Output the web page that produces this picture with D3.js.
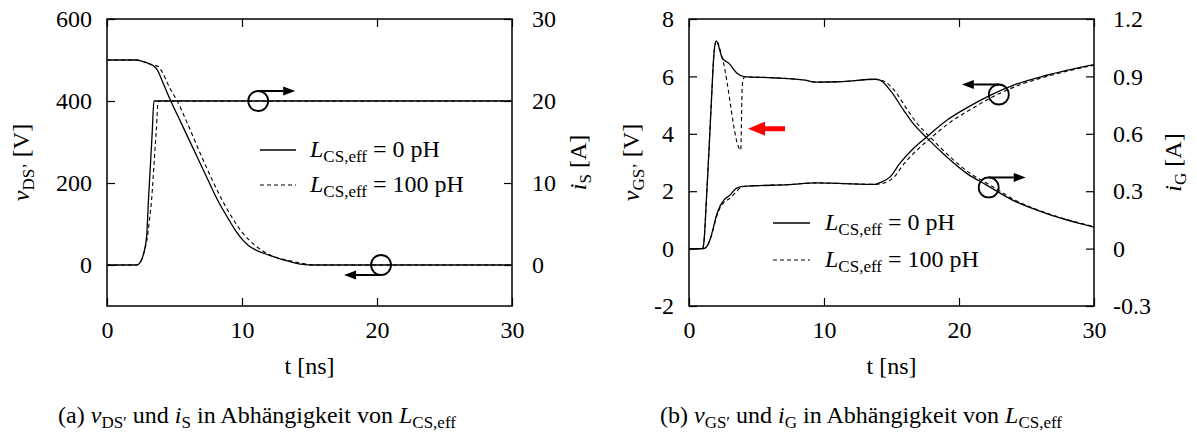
<!DOCTYPE html>
<html>
<head>
<meta charset="utf-8">
<script src="https://cdn.jsdelivr.net/npm/d3@7"></script>
<style>
	body { margin: 0; background: #fff; }
	svg { display: block; font-family: "Liberation Serif", "Times New Roman", serif; }
</style>
</head>
<body>
<svg id="fig" width="1197" height="435"></svg>
<script>
'use strict';

// time axis [ns], shared by both panels
const T_DOMAIN = [0, 30];
const T_TICKS = [0, 10, 20, 30];

// (a) v_DS' [V] (left axis) and i_S [A] (right axis)
const A_V_DOMAIN = [-100, 600];
const A_V_TICKS = [0, 200, 400, 600];
const A_I_DOMAIN = [-5, 30];
const A_I_TICKS = [0, 10, 20, 30];

const vds_0pH = [[0,500],[2.2,500],[2.5,498],[2.8,495],[3.2,490],[3.5,484],[3.7,477],[4.2,440],[4.7,402],[5.5,346],[6.3,290],[7.0,241],[7.5,206],[8.2,158],[9.0,112],[9.5,85],[10.0,63],[10.5,47],[11.0,37],[12.0,24],[13.0,13],[13.8,6],[14.5,1.5],[15.2,0],[30,0]];
const vds_100pH = [[0,500],[2.2,500],[2.6,497],[3.0,492],[3.5,487],[3.8,484],[4.1,470],[4.6,435],[5.2,400],[6.0,342],[7.0,265],[7.8,207],[8.5,160],[9.3,114],[10.0,80],[10.5,62],[11.0,47],[11.6,33],[12.3,21],[13.3,12],[14.3,5],[15.0,1],[15.6,0],[30,0]];
const is_0pH = [[0,0],[2.2,0],[2.4,0.2],[2.6,0.8],[2.8,2.0],[2.95,3.8],[3.07,7.9],[3.2,11.7],[3.35,16.2],[3.48,20],[30,20]];
const is_100pH = [[0,0],[2.2,0],[2.4,0.2],[2.6,0.8],[2.8,1.9],[3.0,3.5],[3.15,5.6],[3.3,7.9],[3.5,12.7],[3.65,16.4],[3.8,20],[30,20]];

// (b) v_GS' [V] (left axis) and i_G [A] (right axis)
const B_V_DOMAIN = [-2, 8];
const B_V_TICKS = [-2, 0, 2, 4, 6, 8];
const B_I_DOMAIN = [-0.3, 1.2];
const B_I_TICKS = [-0.3, 0, 0.3, 0.6, 0.9, 1.2];

const vgs_0pH = [[0,0],[1.05,0],[1.3,0.06],[1.6,0.38],[1.8,0.72],[2.0,1.1],[2.3,1.48],[2.6,1.7],[3.0,1.85],[3.5,2.1],[4.0,2.17],[4.9,2.19],[7.4,2.23],[9.4,2.29],[11.1,2.27],[13.8,2.24],[14.15,2.3],[14.9,2.5],[15.6,2.96],[16.6,3.48],[17.6,3.89],[19.1,4.47],[20.6,4.91],[22.3,5.34],[24.0,5.69],[26.5,6.04],[30,6.41]];
const vgs_100pH = [[0,0],[1.05,0],[1.3,0.06],[1.6,0.36],[1.8,0.68],[2.0,1.05],[2.3,1.42],[2.6,1.62],[3.0,1.74],[3.5,1.98],[3.9,2.15],[4.9,2.19],[7.4,2.23],[9.4,2.29],[11.1,2.27],[13.8,2.24],[14.4,2.28],[15.2,2.5],[15.9,2.94],[16.9,3.44],[17.9,3.85],[19.4,4.42],[20.9,4.86],[22.5,5.29],[24.2,5.65],[26.6,6.01],[30,6.39]];
const ig_0pH = [[0,0],[1.0,0],[1.1,0.03],[1.3,0.27],[1.5,0.54],[1.7,0.83],[1.85,1.02],[2.02,1.086],[2.47,0.995],[2.96,0.968],[3.58,0.915],[4.07,0.899],[6.2,0.893],[8.6,0.88],[9.4,0.87],[11.1,0.872],[13.8,0.885],[14.15,0.88],[14.9,0.828],[15.9,0.723],[16.6,0.654],[17.6,0.58],[19.1,0.479],[20.6,0.392],[22.05,0.332],[24.0,0.252],[26.5,0.183],[30,0.112]];
const ig_100pH = [[0,0],[1.0,0],[1.1,0.03],[1.3,0.27],[1.5,0.54],[1.7,0.83],[1.85,1.02],[2.02,1.086],[2.47,0.995],[3.83,0.515],[3.95,0.855],[4.1,0.897],[6.2,0.893],[8.6,0.88],[9.4,0.87],[11.1,0.872],[13.8,0.885],[14.15,0.88],[14.45,0.875],[15.2,0.828],[16.2,0.723],[16.9,0.654],[17.9,0.58],[19.35,0.479],[20.85,0.392],[22.3,0.332],[24.2,0.252],[26.6,0.183],[30,0.115]];

const LEGEND_VALUES = ["0 pH", "100 pH"];

const FONT_SIZE = 24;
const SUB_SIZE = 17;
const SUB_DY = 5;
const TICK_LEN = 8;
const MARK_R = 10;
const ARROW_LEN = 37;

const svg = d3.select("#fig");

// appends tspans, parts: {t: text, i: italic, s: subscript}
function add_rich(text_sel, parts) {
	let in_sub = false;
	parts.forEach(p => {
		const ts = text_sel.append("tspan").text(p.t);
		if (p.i) ts.attr("font-style", "italic");
		if (p.s) {
			ts.attr("font-size", SUB_SIZE);
			if (!in_sub) ts.attr("dy", SUB_DY);
		} else if (in_sub) {
			ts.attr("dy", -SUB_DY);
		}
		in_sub = !!p.s;
	});
	return text_sel;
}

const legend_parts = v => [{t: "L", i: true}, {t: "CS,eff", s: true}, {t: " = " + v}];

const PANELS = [
	{
		left: 107, top: 19, width: 405, height: 287,
		yl_domain: A_V_DOMAIN, yl_ticks: A_V_TICKS, yl_pad: 15,
		yr_domain: A_I_DOMAIN, yr_ticks: A_I_TICKS, yr_pad: 20,
		yl_title: [{t: "v", i: true}, {t: "DS’", s: true}, {t: " [V]"}], yl_title_x: 29,
		yr_title: [{t: "i", i: true}, {t: "S", s: true}, {t: " [A]"}], yr_title_x: 586,
		series: [
			{data: vds_0pH, axis: "l", dashed: false},
			{data: is_0pH, axis: "r", dashed: false},
			{data: vds_100pH, axis: "l", dashed: true},
			{data: is_100pH, axis: "r", dashed: true},
		],
		legend: {x: 153, y: 131, gap: 35, len: 36, text_dx: 50},
		markers: [
			{t: 11.2, v: 400, side: -1, dir: 1},
			{t: 20.3, v: 0, side: 1, dir: -1},
		],
		red_arrow: null,
		caption: [{t: "(a) "}, {t: "v", i: true}, {t: "DS′", s: true}, {t: " und "}, {t: "i", i: true}, {t: "S", s: true}, {t: " in Abhängigkeit von "}, {t: "L", i: true}, {t: "CS,eff", s: true}],
		caption_x: 257,
	},
	{
		left: 689, top: 19, width: 405, height: 287,
		yl_domain: B_V_DOMAIN, yl_ticks: B_V_TICKS, yl_pad: 15,
		yr_domain: B_I_DOMAIN, yr_ticks: B_I_TICKS, yr_pad: 19,
		yl_title: [{t: "v", i: true}, {t: "GS’", s: true}, {t: " [V]"}], yl_title_x: 639,
		yr_title: [{t: "i", i: true}, {t: "G", s: true}, {t: " [A]"}], yr_title_x: 1181,
		series: [
			{data: ig_0pH, axis: "r", dashed: false},
			{data: vgs_0pH, axis: "l", dashed: false},
			{data: ig_100pH, axis: "r", dashed: true},
			{data: vgs_100pH, axis: "l", dashed: true},
		],
		legend: {x: 84, y: 204, gap: 37, len: 37, text_dx: 52},
		markers: [
			{t: 22.95, v: 5.37, side: -1, dir: -1},
			{t: 22.2, v: 2.13, side: -1, dir: 1},
		],
		red_arrow: {t: 4.37, v: 4.18},
		caption: [{t: "(b) "}, {t: "v", i: true}, {t: "GS′", s: true}, {t: " und "}, {t: "i", i: true}, {t: "G", s: true}, {t: " in Abhängigkeit von "}, {t: "L", i: true}, {t: "CS,eff", s: true}],
		caption_x: 861,
	},
];

function style_axis(a) {
	a.select(".domain").remove();
	a.attr("font-family", null).attr("font-size", FONT_SIZE);
	a.selectAll("line").attr("stroke", "#000").attr("stroke-width", 1.2);
	a.selectAll("text").attr("fill", "#000");
}

function draw_panel(p, idx) {
	const g = svg.append("g").attr("transform", `translate(${p.left},${p.top})`);
	const x = d3.scaleLinear().domain(T_DOMAIN).range([0, p.width]);
	const yl = d3.scaleLinear().domain(p.yl_domain).range([p.height, 0]);
	const yr = d3.scaleLinear().domain(p.yr_domain).range([p.height, 0]);

	// ticks point inwards on all four sides
	g.append("g").attr("transform", `translate(0,${p.height})`)
		.call(d3.axisBottom(x).tickValues(T_TICKS).tickSizeInner(-TICK_LEN).tickSizeOuter(0).tickPadding(15).tickFormat(String))
		.call(style_axis);
	g.append("g")
		.call(d3.axisTop(x).tickValues(T_TICKS).tickSizeInner(-TICK_LEN).tickSizeOuter(0).tickFormat(""))
		.call(style_axis);
	g.append("g")
		.call(d3.axisLeft(yl).tickValues(p.yl_ticks).tickSizeInner(-TICK_LEN).tickSizeOuter(0).tickPadding(p.yl_pad).tickFormat(String))
		.call(style_axis);
	g.append("g").attr("transform", `translate(${p.width},0)`)
		.call(d3.axisRight(yr).tickValues(p.yr_ticks).tickSizeInner(-TICK_LEN).tickSizeOuter(0).tickPadding(p.yr_pad).tickFormat(String))
		.call(style_axis);

	const clip_id = "clip" + idx;
	g.append("clipPath").attr("id", clip_id)
		.append("rect").attr("width", p.width).attr("height", p.height);

	const gLines = g.append("g").attr("clip-path", `url(#${clip_id})`)
		.attr("fill", "none")
		.attr("stroke", "#000");

	p.series.forEach(s => {
		const ys = s.axis === "l" ? yl : yr;
		const line = d3.line()
			.x(d => x(d[0]))
			.y(d => ys(d[1]))
			.curve(d3.curveMonotoneX);
		gLines.append("path")
			.attr("d", line(s.data))
			.attr("stroke-width", s.dashed ? 1.1 : 1.3)
			.attr("stroke-dasharray", s.dashed ? "4,3" : null);
	});

	g.append("rect")
		.attr("width", p.width).attr("height", p.height)
		.attr("fill", "none").attr("stroke", "#000").attr("stroke-width", 1.5);

	// circle + arrow pointing to the axis the curve belongs to
	p.markers.forEach(m => {
		const cx = x(m.t), cy = yl(m.v);
		const ay = cy + m.side * MARK_R;
		const tip = cx + m.dir * ARROW_LEN;
		const head = 12;
		g.append("circle")
			.attr("cx", cx).attr("cy", cy).attr("r", MARK_R)
			.attr("fill", "none").attr("stroke", "#000").attr("stroke-width", 1.8);
		g.append("line")
			.attr("x1", cx).attr("y1", ay)
			.attr("x2", tip - m.dir * head).attr("y2", ay)
			.attr("stroke", "#000").attr("stroke-width", 2);
		g.append("path")
			.attr("d", `M${tip},${ay}L${tip - m.dir * head},${ay - 4.5}L${tip - m.dir * head},${ay + 4.5}Z`)
			.attr("fill", "#000");
	});

	if (p.red_arrow) {
		const tx = x(p.red_arrow.t), ty = yl(p.red_arrow.v);
		const len = 37, head = 17, hh = 7, sw = 2.5;
		g.append("path")
			.attr("d", `M${tx},${ty}L${tx + head},${ty - hh}L${tx + head},${ty - sw}L${tx + len},${ty - sw}L${tx + len},${ty + sw}L${tx + head},${ty + sw}L${tx + head},${ty + hh}Z`)
			.attr("fill", "#ff0000");
	}

	// legend
	const lg = g.append("g").attr("transform", `translate(${p.legend.x},${p.legend.y})`);
	LEGEND_VALUES.forEach((v, i) => {
		lg.append("line")
			.attr("x1", 0).attr("x2", p.legend.len)
			.attr("y1", i * p.legend.gap).attr("y2", i * p.legend.gap)
			.attr("stroke", "#000")
			.attr("stroke-width", i === 0 ? 1.3 : 1.1)
			.attr("stroke-dasharray", i === 0 ? null : "4,3");
		add_rich(lg.append("text")
			.attr("x", p.legend.text_dx).attr("y", i * p.legend.gap + 7)
			.attr("font-size", FONT_SIZE), legend_parts(v));
	});

	// axis titles
	svg.append("text")
		.attr("font-size", FONT_SIZE)
		.attr("text-anchor", "middle")
		.attr("x", p.left + p.width / 2).attr("y", 374)
		.text("t [ns]");
	add_rich(svg.append("text")
		.attr("font-size", FONT_SIZE)
		.attr("text-anchor", "middle")
		.attr("transform", `translate(${p.yl_title_x},${p.top + p.height / 2}) rotate(-90)`), p.yl_title);
	add_rich(svg.append("text")
		.attr("font-size", FONT_SIZE)
		.attr("text-anchor", "middle")
		.attr("transform", `translate(${p.yr_title_x},${p.top + p.height / 2}) rotate(-90)`), p.yr_title);

	add_rich(svg.append("text")
		.attr("font-size", FONT_SIZE)
		.attr("text-anchor", "middle")
		.attr("x", p.caption_x).attr("y", 423), p.caption);
}

PANELS.forEach(draw_panel);
</script>
</body>
</html>
